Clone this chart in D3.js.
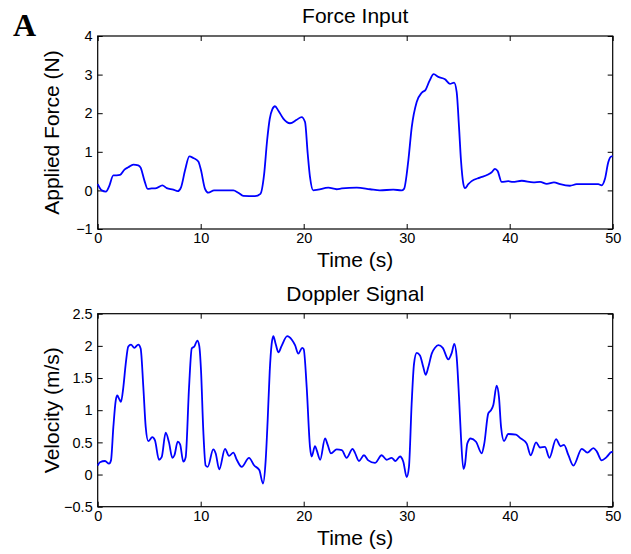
<!DOCTYPE html>
<html>
<head>
<meta charset="utf-8">
<script src="https://cdn.jsdelivr.net/npm/d3@7"></script>
<style>
  body { margin: 0; background: #fff; }
  svg { display: block; font-family: "Liberation Sans", Arial, Helvetica, sans-serif; }
  .tick line { stroke: #000; }
  .tick text { fill: #000; font-size: 14.5px; }
</style>
</head>
<body>
<div id="chart-area"></div>
<script>
const xTicks = [0, 10, 20, 30, 40, 50];
const forceTicks = [-1, 0, 1, 2, 3, 4];
const velocityTicks = [-0.5, 0, 0.5, 1, 1.5, 2, 2.5];

// [time (s), applied force (N)]
const forceSamples = [
  [0, 0.16], [0.39, 0], [0.8, -0.03], [1.1, 0.1], [1.52, 0.39], [1.84, 0.39], [2.17, 0.4],
  [2.6, 0.54], [2.97, 0.6], [3.46, 0.67], [3.94, 0.65], [4.17, 0.59], [4.53, 0.26], [4.85, 0.04],
  [5.24, 0.05], [5.7, 0.06], [6.28, 0.13], [6.7, 0.06], [7.34, 0.02], [7.77, -0.02], [8.09, 0.08],
  [8.48, 0.52], [8.9, 0.88], [9.28, 0.84], [9.77, 0.75], [10.03, 0.52], [10.42, 0.04], [10.74, -0.06],
  [11.3, 0], [13.17, 0], [13.65, -0.06], [14.14, -0.14], [15.27, -0.15], [15.8, -0.09], [16.15, 0.4],
  [16.45, 1.3], [16.7, 1.85], [16.95, 2.1], [17.21, 2.18], [17.53, 2.07], [18.02, 1.86], [18.67, 1.74],
  [19.32, 1.83], [19.8, 1.9], [20.13, 1.77], [20.39, 0.95], [20.61, 0.35], [20.93, 0], [21.4, 0.02],
  [22.39, 0.07], [23.2, 0.03], [23.7, 0.05], [25.15, 0.07], [26.44, 0.03], [27.4, 0], [28.7, 0.02],
  [29.5, 0], [29.74, 0.04], [30.16, 0.78], [30.49, 1.64], [30.97, 2.29], [31.46, 2.53], [31.84, 2.61],
  [32.2, 2.83], [32.62, 3.01], [33.07, 2.94], [33.72, 2.88], [34.2, 2.76], [34.6, 2.79], [34.85, 2.55],
  [35.08, 1.64], [35.27, 0.78], [35.5, 0.17], [35.66, 0.06], [35.98, 0.16], [36.3, 0.24], [37.1, 0.33],
  [37.9, 0.41], [38.25, 0.47], [38.57, 0.56], [38.83, 0.5], [39.22, 0.22], [39.86, 0.24], [40.3, 0.22],
  [41.17, 0.25], [42.3, 0.21], [42.95, 0.22], [43.6, 0.17], [44.3, 0.21], [44.9, 0.16], [45.85, 0.12],
  [46.5, 0.16], [48.6, 0.16], [48.93, 0.13], [49.25, 0.3], [49.57, 0.73], [49.9, 0.88], [50, 0.88]
];

// [time (s), velocity (m/s)]
const dopplerSamples = [
  [0, 0.14], [0.22, 0.19], [0.71, 0.21], [1.1, 0.17], [1.29, 0.22], [1.52, 0.74], [1.75, 1.15],
  [1.9, 1.23], [2.07, 1.18], [2.26, 1.13], [2.49, 1.36], [2.72, 1.72], [2.97, 1.99], [3.23, 2.02],
  [3.56, 1.97], [3.94, 2.02], [4.17, 1.96], [4.43, 1.36], [4.66, 0.74], [4.91, 0.52], [5.3, 0.58],
  [5.56, 0.53], [5.95, 0.23], [6.21, 0.27], [6.6, 0.65], [6.92, 0.5], [7.25, 0.26], [7.45, 0.3],
  [7.77, 0.51], [8.0, 0.47], [8.31, 0.2], [8.54, 0.27], [8.87, 1.36], [9.13, 1.96], [9.38, 1.99],
  [9.67, 2.08], [9.86, 2.0], [10.03, 1.62], [10.25, 0.69], [10.48, 0.14], [10.68, 0.12], [11.22, 0.39],
  [11.45, 0.33], [11.8, 0.08], [12.36, 0.4], [12.75, 0.29], [13.17, 0.34], [13.5, 0.23], [13.98, 0.12],
  [14.69, 0.26], [15.2, 0.14], [15.69, 0.07], [16.05, -0.14], [16.3, 0.2], [16.5, 0.84], [16.7, 1.6],
  [16.89, 2.03], [17.05, 2.15], [17.28, 2.03], [17.54, 1.9], [17.86, 2.0], [18.4, 2.15], [18.83, 2.1],
  [19.16, 2.01], [19.48, 1.88], [19.86, 1.97], [20.0, 1.95], [20.29, 1.36], [20.61, 0.43], [20.77, 0.28],
  [21.1, 0.44], [21.26, 0.38], [21.6, 0.23], [22.07, 0.56], [22.33, 0.46], [22.65, 0.33], [23.2, 0.39],
  [23.7, 0.38], [24.16, 0.26], [24.75, 0.4], [24.97, 0.34], [25.37, 0.21], [25.85, 0.3], [26.27, 0.22],
  [26.92, 0.18], [27.57, 0.3], [28.06, 0.23], [28.54, 0.26], [28.9, 0.21], [29.35, 0.28], [29.67, 0.2],
  [30.0, -0.04], [30.22, 0.12], [30.48, 1.1], [30.71, 1.72], [30.97, 1.89], [31.29, 1.85], [31.61, 1.67],
  [31.84, 1.55], [32.1, 1.67], [32.43, 1.88], [32.75, 1.97], [33.07, 2.01], [33.5, 1.97], [34.04, 1.79],
  [34.37, 1.89], [34.62, 2.03], [34.85, 1.83], [35.08, 1.2], [35.27, 0.58], [35.5, 0.09], [35.66, 0.16],
  [35.88, 0.48], [36.21, 0.56], [36.73, 0.51], [37.28, 0.33], [37.53, 0.48], [37.92, 0.95], [38.18, 1.0],
  [38.41, 1.08], [38.73, 1.38], [38.96, 1.2], [39.16, 0.74], [39.45, 0.52], [39.86, 0.63], [40.61, 0.62],
  [41, 0.57], [41.65, 0.48], [42.04, 0.3], [42.56, 0.5], [42.94, 0.42], [43.43, 0.43], [43.85, 0.26],
  [44.5, 0.55], [44.94, 0.44], [45.27, 0.46], [45.7, 0.3], [46.18, 0.14], [47.0, 0.4], [47.54, 0.34],
  [48.12, 0.41], [48.45, 0.36], [48.93, 0.22], [49.4, 0.27], [49.9, 0.35], [50, 0.35]
];

const W = 631, H = 554;
const left = 97.7, right = 612.7;

const svg = d3.select("#chart-area")
    .append("svg")
    .attr("width", W)
    .attr("height", H);

svg.append("text")
    .attr("x", 13)
    .attr("y", 36)
    .attr("font-family", "'Liberation Serif', 'Times New Roman', serif")
    .attr("font-weight", "bold")
    .attr("font-size", "32px")
    .text("A");

function panel(opts) {
    const x = d3.scaleLinear().domain([0, 50]).range([left, right]);
    const y = d3.scaleLinear().domain(opts.yDomain).range([opts.bottom, opts.top]);
    const ph = opts.bottom - opts.top;
    const g = svg.append("g");

    g.append("g")
        .attr("transform", `translate(0,${opts.bottom})`)
        .call(d3.axisBottom(x).tickValues(xTicks).tickSizeInner(-5).tickSizeOuter(0).tickPadding(4))
        .call(a => a.select(".domain").remove());
    g.append("g")
        .attr("transform", `translate(0,${opts.top})`)
        .call(d3.axisTop(x).tickValues(xTicks).tickSizeInner(-5).tickSizeOuter(0).tickFormat(""))
        .call(a => a.select(".domain").remove());
    g.append("g")
        .attr("transform", `translate(${left},0)`)
        .call(d3.axisLeft(y).tickValues(opts.yTicks).tickSizeInner(-5).tickSizeOuter(0).tickPadding(5).tickFormat(d3.format("")))
        .call(a => a.select(".domain").remove());
    g.append("g")
        .attr("transform", `translate(${right},0)`)
        .call(d3.axisRight(y).tickValues(opts.yTicks).tickSizeInner(-5).tickSizeOuter(0).tickFormat(""))
        .call(a => a.select(".domain").remove());

    g.append("rect")
        .attr("x", left).attr("y", opts.top)
        .attr("width", right - left).attr("height", ph)
        .attr("fill", "none").attr("stroke", "#000").attr("stroke-width", 1.2);

    const line = d3.line()
        .x(d => x(d[0]))
        .y(d => y(d[1]))
        .curve(d3.curveMonotoneX);

    g.append("path")
        .datum(opts.data)
        .attr("fill", "none")
        .attr("stroke", "#0000ff")
        .attr("stroke-width", 1.8)
        .attr("stroke-linejoin", "round")
        .attr("d", line);

    g.append("text")
        .attr("x", (left + right) / 2)
        .attr("y", opts.top - 13)
        .attr("text-anchor", "middle")
        .attr("font-size", "21px")
        .text(opts.title);

    g.append("text")
        .attr("x", (left + right) / 2)
        .attr("y", opts.bottom + 38)
        .attr("text-anchor", "middle")
        .attr("font-size", "21px")
        .text("Time (s)");

    g.append("text")
        .attr("transform", `translate(59,${opts.top + ph / 2}) rotate(-90)`)
        .attr("text-anchor", "middle")
        .attr("font-size", "21px")
        .text(opts.yLabel);
}

panel({ top: 36, bottom: 229, yDomain: [-1, 4], yTicks: forceTicks, data: forceSamples,
        title: "Force Input", yLabel: "Applied Force (N)" });
panel({ top: 313.7, bottom: 506.7, yDomain: [-0.5, 2.5], yTicks: velocityTicks, data: dopplerSamples,
        title: "Doppler Signal", yLabel: "Velocity (m/s)" });
</script>
</body>
</html>
